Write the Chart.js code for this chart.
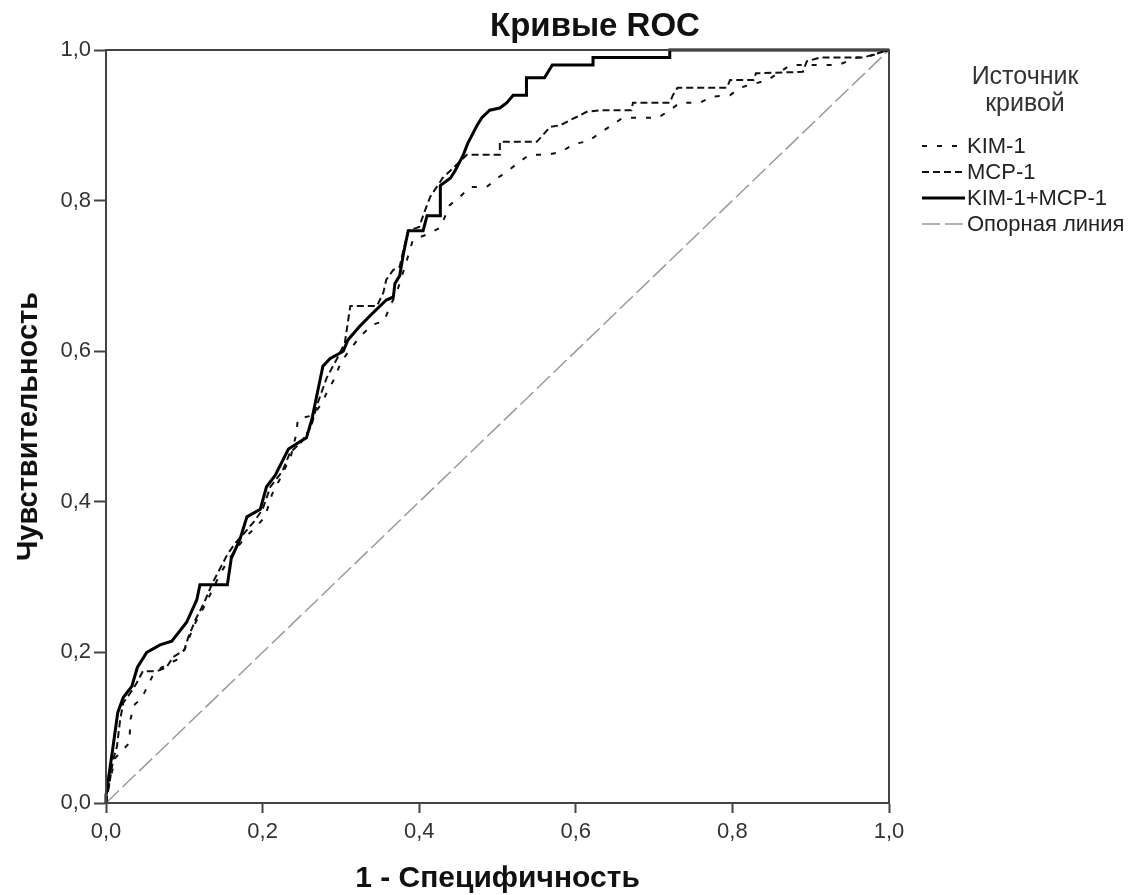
<!DOCTYPE html>
<html>
<head>
<meta charset="utf-8">
<script src="https://cdn.jsdelivr.net/npm/chart.js@4.4.1/dist/chart.umd.min.js"></script>
<style>
html,body{margin:0;padding:0;background:#fff;}
#wrap{width:1130px;height:895px;position:relative;}
</style>
</head>
<body>
<div id="wrap"><canvas id="c"></canvas></div>
<script>
// ---- data (x = 1 - specificity, y = sensitivity) ----
const titleText = 'Кривые ROC';
const xTitle = '1 - Специфичность';
const yTitle = 'Чувствительность';
const legendTitle = ['Источник', 'кривой'];
const seriesNames = ['KIM-1', 'MCP-1', 'KIM-1+MCP-1', 'Опорная линия'];
const tickValues = [0, 0.2, 0.4, 0.6, 0.8, 1.0];

const kim1 = [[0,0],[0.005,0.03],[0.012,0.06],[0.03,0.08],[0.031,0.11],[0.036,0.13],[0.046,0.14],[0.06,0.17],[0.071,0.18],[0.09,0.19],[0.101,0.205],[0.112,0.235],[0.125,0.26],[0.137,0.285],[0.146,0.305],[0.158,0.325],[0.168,0.34],[0.18,0.355],[0.192,0.367],[0.203,0.38],[0.212,0.41],[0.222,0.43],[0.236,0.46],[0.243,0.49],[0.245,0.51],[0.265,0.515],[0.275,0.53],[0.282,0.545],[0.29,0.56],[0.3,0.585],[0.31,0.6],[0.325,0.62],[0.34,0.635],[0.355,0.64],[0.363,0.66],[0.372,0.68],[0.384,0.72],[0.392,0.748],[0.41,0.755],[0.427,0.764],[0.439,0.794],[0.452,0.805],[0.465,0.818],[0.486,0.818],[0.5,0.83],[0.514,0.84],[0.526,0.85],[0.541,0.861],[0.565,0.861],[0.582,0.865],[0.597,0.875],[0.616,0.879],[0.631,0.89],[0.646,0.9],[0.66,0.91],[0.705,0.91],[0.72,0.92],[0.733,0.93],[0.759,0.93],[0.773,0.938],[0.797,0.94],[0.81,0.95],[0.845,0.96],[0.874,0.98],[0.935,0.98],[0.959,0.99],[0.97,0.99],[1,1]];

const mcp1 = [[0,0],[0.005,0.03],[0.009,0.057],[0.014,0.075],[0.018,0.11],[0.022,0.133],[0.031,0.146],[0.039,0.159],[0.047,0.175],[0.065,0.175],[0.077,0.18],[0.086,0.194],[0.1,0.203],[0.105,0.22],[0.115,0.245],[0.125,0.265],[0.135,0.29],[0.145,0.31],[0.155,0.33],[0.165,0.345],[0.178,0.36],[0.19,0.375],[0.2,0.39],[0.21,0.42],[0.225,0.44],[0.235,0.465],[0.25,0.48],[0.262,0.5],[0.27,0.53],[0.282,0.565],[0.295,0.59],[0.305,0.611],[0.312,0.66],[0.346,0.66],[0.354,0.677],[0.358,0.695],[0.367,0.708],[0.375,0.712],[0.38,0.735],[0.386,0.76],[0.4,0.765],[0.405,0.78],[0.414,0.805],[0.43,0.83],[0.445,0.845],[0.461,0.861],[0.503,0.861],[0.503,0.878],[0.55,0.878],[0.558,0.887],[0.567,0.898],[0.58,0.9],[0.593,0.907],[0.601,0.911],[0.614,0.918],[0.631,0.92],[0.671,0.92],[0.673,0.93],[0.72,0.93],[0.724,0.94],[0.73,0.95],[0.793,0.95],[0.797,0.96],[0.827,0.96],[0.83,0.969],[0.89,0.971],[0.895,0.985],[0.912,0.99],[0.967,0.99],[1,1]];

const combined = [[0,0],[0,0.01],[0.007,0.06],[0.015,0.12],[0.022,0.14],[0.033,0.155],[0.04,0.18],[0.052,0.2],[0.069,0.21],[0.084,0.215],[0.103,0.24],[0.116,0.27],[0.12,0.29],[0.155,0.29],[0.16,0.325],[0.171,0.35],[0.18,0.38],[0.197,0.39],[0.205,0.42],[0.216,0.435],[0.233,0.47],[0.248,0.48],[0.256,0.485],[0.263,0.51],[0.277,0.58],[0.286,0.59],[0.303,0.6],[0.309,0.615],[0.324,0.633],[0.341,0.651],[0.35,0.66],[0.358,0.668],[0.367,0.672],[0.369,0.69],[0.375,0.7],[0.38,0.73],[0.386,0.76],[0.405,0.76],[0.41,0.78],[0.427,0.78],[0.427,0.82],[0.44,0.83],[0.446,0.84],[0.456,0.86],[0.462,0.876],[0.474,0.9],[0.48,0.91],[0.49,0.92],[0.503,0.923],[0.512,0.93],[0.52,0.94],[0.537,0.94],[0.537,0.963],[0.56,0.963],[0.57,0.98],[0.622,0.98],[0.622,0.99],[0.72,0.99],[0.72,1],[1,1]];

const reference = [[0,0],[1,1]];

const FONT = '"Liberation Sans", Arial, sans-serif';
const toPts = a => a.map(p => ({x: p[0], y: p[1]}));
const fmt = v => Number(v).toFixed(1).replace('.', ',');

const styles = [
  {dash: [5, 10], width: 2, color: '#111'},
  {dash: [7, 4], width: 2, color: '#111'},
  {dash: [], width: 3, color: '#000'},
  {dash: [18, 5], width: 1.5, color: '#9a9a9a'}
];

const overlay = {
  id: 'overlay',
  afterDatasetsDraw(chart) {
    const ctx = chart.ctx, a = chart.chartArea;
    ctx.save();
    ctx.strokeStyle = '#444';
    ctx.lineWidth = 2;
    ctx.setLineDash([]);
    ctx.strokeRect(a.left, a.top, a.right - a.left, a.bottom - a.top);
    ctx.restore();
  },
  afterDraw(chart) {
    const ctx = chart.ctx, a = chart.chartArea;
    ctx.save();
    ctx.fillStyle = '#111';
    ctx.textAlign = 'center';
    ctx.textBaseline = 'alphabetic';
    ctx.font = 'bold 33px ' + FONT;
    ctx.fillText(titleText, 595, 36);
    ctx.font = 'bold 30px ' + FONT;
    ctx.fillText(xTitle, (a.left + a.right) / 2, 887);
    ctx.save();
    ctx.translate(37, (a.top + a.bottom) / 2);
    ctx.rotate(-Math.PI / 2);
    ctx.font = 'bold 29px ' + FONT;
    ctx.fillText(yTitle, 0, 0);
    ctx.restore();
    // legend
    ctx.fillStyle = '#333';
    ctx.font = '25px ' + FONT;
    ctx.fillText(legendTitle[0], 1025, 84);
    ctx.fillText(legendTitle[1], 1025, 111);
    ctx.textAlign = 'left';
    ctx.textBaseline = 'middle';
    ctx.font = '22px ' + FONT;
    const ys = [146, 172, 198, 224];
    seriesNames.forEach((n, i) => {
      const s = styles[i];
      ctx.strokeStyle = s.color;
      ctx.lineWidth = s.width;
      ctx.setLineDash(s.dash);
      ctx.beginPath();
      ctx.moveTo(922, ys[i]);
      ctx.lineTo(965, ys[i]);
      ctx.stroke();
      ctx.setLineDash([]);
      ctx.fillStyle = '#222';
      ctx.fillText(n, 967, ys[i] + 1);
    });
    ctx.restore();
  }
};

const seriesData = [kim1, mcp1, combined, reference];
const orders = [2, 1, 0, 3];
const datasets = seriesData.map((d, i) => ({
  label: seriesNames[i],
  data: toPts(d),
  showLine: true,
  pointRadius: 0,
  borderColor: styles[i].color,
  borderWidth: styles[i].width,
  borderDash: styles[i].dash,
  fill: false,
  tension: 0,
  order: orders[i],
  clip: 4
}));

new Chart(document.getElementById('c'), {
  type: 'scatter',
  data: {datasets},
  options: {
    responsive: true,
    maintainAspectRatio: false,
    animation: false,
    layout: {padding: {left: 0, right: 241, top: 50, bottom: 0}},
    plugins: {legend: {display: false}, title: {display: false}, tooltip: {enabled: false}},
    scales: {
      x: {
        type: 'linear', min: 0, max: 1,
        afterBuildTicks: s => { s.ticks = tickValues.map(v => ({value: v})); },
        ticks: {callback: fmt, font: {size: 22, family: FONT}, color: '#333', padding: 6, maxRotation: 0},
        grid: {drawOnChartArea: false, drawTicks: true, tickLength: 10, tickColor: '#444', tickWidth: 2},
        border: {display: true, color: '#444', width: 2},
        afterFit: s => { s.height = 92; }
      },
      y: {
        type: 'linear', min: 0, max: 1,
        afterBuildTicks: s => { s.ticks = tickValues.map(v => ({value: v})); },
        ticks: {callback: fmt, font: {size: 22, family: FONT}, color: '#333', padding: 3},
        grid: {drawOnChartArea: false, drawTicks: true, tickLength: 12, tickColor: '#444', tickWidth: 2},
        border: {display: true, color: '#444', width: 2},
        afterFit: s => { s.width = 106; }
      }
    }
  },
  plugins: [overlay]
});
</script>
</body>
</html>
